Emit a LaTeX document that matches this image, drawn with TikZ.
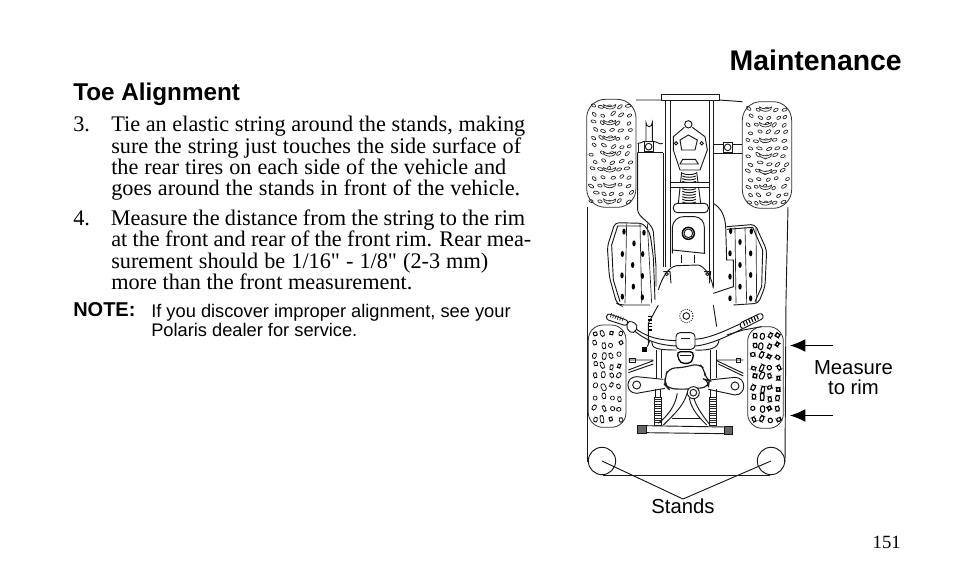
\documentclass[tikz,border=0pt]{standalone}
\usepackage{fontspec}
\setmainfont{Liberation Serif}
\setsansfont{Liberation Sans}
\newfontfamily\plainq{Liberation Serif}
\newcommand{\sq}{{\plainq"}}
\newcommand{\fitline}[2]{\makebox[\dimexpr #1pt*3/4\relax][s]{#2}}
\tikzset{
  bodytext/.style={anchor=base west,inner sep=0pt,font=\fontsize{16.7pt}{17pt}\selectfont},
  sanstext/.style={anchor=base west,inner sep=0pt,font=\sffamily\fontsize{13.7pt}{15pt}\selectfont},
  labeltext/.style={anchor=base,inner sep=0pt,font=\sffamily\fontsize{15.2pt}{16pt}\selectfont},
  art/.style={line width=.7pt,black!90},
  thin art/.style={line width=.5pt,black!85},
  tire/.style={line width=.6pt,black!80,rounded corners=14pt},
  standring/.style={circle,draw,line width=.7pt,black!90,minimum size=20.5pt,inner sep=0pt},
  arrowline/.style={line width=.6pt,-{Latex[length=11.5pt,width=9.5pt]}},
}
\usetikzlibrary{arrows.meta}
\newcommand{\rearblobs}[4]{% x0 x1 y0 y1 in zoom px
  \foreach \r in {0,...,12}{
    \foreach \c in {0,...,4}{
      \pgfmathsetmacro{\bx}{#1+(#2-#1)*(\c+.5+.3*(mod(\r,2)-.5))/5+rand*4}
      \pgfmathsetmacro{\by}{#3+(#4-#3)*(\r+.5)/13+rand*4}
      \pgfmathsetmacro{\ba}{(\c<2?-28:28)+rand*20}
      \pgfmathsetmacro{\bw}{6+3*rnd}
      \draw[thin art] (\bx,\by) ellipse[x radius=\bw,y radius=4.2,rotate=\ba];
    }
    \pgfmathsetmacro{\cx}{(#1+#2)/2+(mod(\r,2)-.5)*10}
    \pgfmathsetmacro{\cy}{#3+(#4-#3)*(\r+.5)/13}
    \ifodd\r\relax\else
      \draw[thin art,fill=white] (\cx-18,\cy-6) .. controls (\cx-8,\cy+2) and (\cx+8,\cy+2) .. (\cx+18,\cy-6) -- (\cx+16,\cy+2) .. controls (\cx+6,\cy+9) and (\cx-6,\cy+9) .. (\cx-16,\cy+2) -- cycle;
    \fi
  }
}
\newcommand{\frontblobs}[5]{%
  \foreach \r in {0,...,8}{
    \foreach \c in {0,...,3}{
      \pgfmathsetmacro{\bx}{#1+(#2-#1)*(\c+.5)/4+rand*4}
      \pgfmathsetmacro{\by}{#3+(#4-#3)*(\r+.5)/9+rand*6}
      \pgfmathsetmacro{\bh}{5+3*rnd+(\c==1?3:0)}
      \pgfmathsetmacro{\bw}{4+2.5*rnd}
      \pgfmathsetmacro{\ba}{rand*35}
      \draw[line width=#5,black,rounded corners=1.5pt,rotate around={\ba:(\bx,\by)}] (\bx-\bw,\by-\bh) rectangle (\bx+\bw,\by+\bh);
    }
  }
}
\begin{document}
\begin{tikzpicture}[x=.75pt,y=-.75pt]
\useasboundingbox (0,0) rectangle (954,588);
% ---------- text
\node[anchor=base east,inner sep=0pt,font=\sffamily\bfseries\fontsize{21.3pt}{24pt}\selectfont] (title) at (902,71) {Maintenance};
\node[anchor=base west,inner sep=0pt,font=\sffamily\bfseries\fontsize{18.2pt}{20pt}\selectfont] (head) at (73,101) {Toe Alignment};
\node[bodytext] (l1) at (73,132) {3.};
\node[bodytext] (l1b) at (111,132) {\fitline{414}{Tie an elastic string around the stands, making}};
\node[bodytext] (l2) at (111,154) {\fitline{410}{sure the string just touches the side surface of}};
\node[bodytext] (l3) at (111,175) {\fitline{395}{the rear tires on each side of the vehicle and}};
\node[bodytext] (l4) at (111,196) {\fitline{409}{goes around the stands in front of the vehicle.}};
\node[bodytext] (m1) at (73,226) {4.};
\node[bodytext] (m1b) at (110.5,226) {\fitline{414.5}{Measure the distance from the string to the rim}};
\node[bodytext] (m2) at (111,247) {\fitline{420}{at the front and rear of the front rim. Rear mea-}};
\node[bodytext] (m3) at (111,269) {\fitline{377}{surement should be 1/16\sq{} - 1/8\sq{} (2-3 mm)}};
\node[bodytext] (m4) at (111,290) {more than the front measurement.};
\node[anchor=base west,inner sep=0pt,font=\sffamily\bfseries\fontsize{15pt}{16pt}\selectfont] (note) at (73,316) {NOTE:};
\node[sanstext] (n1) at (151,317) {If you discover improper alignment, see your};
\node[sanstext] (n2) at (151,336) {Polaris dealer for service.};
\node[labeltext] (meas1) at (853.5,374) {Measure};
\node[labeltext] (meas2) at (853.5,394) {to rim};
\node[labeltext] (stands) at (683,513) {Stands};
\node[anchor=base east,inner sep=0pt,font=\fontsize{14pt}{16pt}\selectfont] (page) at (901,548) {151};
% ---------- string and stands
\draw[art] (587,207) -- (587,462);
\draw[art] (788,207) -- (786,300) -- (785,462);
\draw[art] (603,475) -- (770,475);
\node[standring] (standl) at (602,461) {};
\node[standring] (standr) at (771,461) {};
\coordinate (join) at (683,499);
\draw[art] (standl.center) -- (join);
\draw[art] (standr.center) -- (join);
% ---------- arrows
\coordinate (a1s) at (833,345.5);
\coordinate (a1e) at (790,345.5);
\coordinate (a2s) at (833,415.5);
\coordinate (a2e) at (790,415.5);
\draw[arrowline] (a1s) -- (a1e);
\draw[arrowline] (a2s) -- (a2e);
% ---------- rear half: coordinates are 3x zoom pixels from (570,90)
\begin{scope}[shift={(570,90)},x=.25pt,y=-.25pt]
\pgfmathsetseed{4711}
\draw[tire] (50,28) rectangle (198,352);
\draw[tire] (517,35) rectangle (665,355);
\rearblobs{58}{190}{38}{345}
\rearblobs{525}{658}{45}{350}
% frame top
\draw[art] (198,30) -- (275,30) (447,30) -- (517,35);
\draw[art] (275,12) rectangle (447,32);
\draw[art] (285,30) -- (285,530) (300,30) -- (300,530);
\draw[art] (417,30) -- (417,570) (430,30) -- (430,590);
% rear axle left
\draw[art] (228,155) -- (228,98) arc[start angle=180,end angle=0,x radius=9.5,y radius=12] -- (247,155);
\draw[art] (203,160) to[out=-30,in=180] (222,154) (250,154) to[out=0,in=210] (278,160);
\draw[art,fill=white] (222,155) rectangle (250,185);
\draw[art] (236,170) circle[radius=10];
\draw[art] (203,187) -- (278,187);
\draw[art] (205,160) -- (205,187);
% rear axle right
\draw[art] (430,163) -- (460,163) (487,163) -- (517,163);
\draw[art] (460,157) rectangle (487,187);
\draw[art] (473,172) circle[radius=10];
\draw[art] (430,190) -- (517,190);
% fender lines
\draw[art] (203,187) -- (203,360) .. controls (205,385) and (245,395) .. (250,425) -- (258,530) -- (258,590);
\draw[art] (280,190) -- (280,530);
\draw[art] (430,340) .. controls (455,355) and (465,380) .. (467,410) -- (470,510) -- (490,510) -- (490,590) -- (430,610);
% centre plate
\draw[art] (343,112) -- (310,140) -- (310,180) -- (330,240) -- (390,240) -- (412,180) -- (405,140) -- (367,112);
\draw[art,fill=white] (355,103) circle[radius=11];
\draw[art] (330,150) -- (355,135) -- (382,150) -- (375,180) -- (335,180) -- cycle;
\draw[art] (318,160) circle[radius=5] (395,160) circle[radius=5];
\draw[art] (330,222) -- (338,208) -- (376,208) -- (385,222) -- cycle;
\foreach \yy in {250,258,266,274,296,304,312,320,328,336}{
  \draw[art] (337,\yy) .. controls (345,\yy+5) and (370,\yy+5) .. (378,\yy);
}
\draw[art] (335,246) -- (325,340) (380,246) -- (392,340);
\draw[art,fill=white] (300,278) rectangle (417,292);
\draw[art,fill=white,rounded corners=3pt] (310,340) rectangle (415,368);
% tank
\draw[art] (307,490) -- (307,412) .. controls (310,390) and (325,380) .. (340,380) -- (375,380) .. controls (392,382) and (403,395) .. (403,412) -- (403,490) -- (307,480);
\draw[line width=1.1pt] (355,430) circle[radius=18];
\draw[art] (355,430) circle[radius=13];
\draw[art] (333,495) -- (333,520) (372,495) -- (372,520);
% seat front
\draw[art] (265,600) .. controls (275,565) and (295,530) .. (320,527) -- (385,525) .. controls (405,530) and (425,560) .. (430,595);
\draw[art] (290,552) circle[radius=5] (412,552) circle[radius=5];
\draw[art] (280,545) -- (300,545) -- (303,580) (402,545) -- (422,545) -- (418,580);
% left footrest
\draw[art,rounded corners=3pt] (255,630) -- (250,500) -- (240,430) -- (220,400) -- (135,398) -- (112,470) -- (118,560) -- (140,640) -- (150,645) -- (240,645);
\draw[art] (125,465) -- (143,408) -- (215,408) (125,465) -- (130,570) -- (150,635);
\foreach \xa/\xb in {170/165,210/215,232/245}{\draw[thin art] (\xa,400) -- (\xb,640);}
% right footrest
\draw[art,rounded corners=3pt] (470,410) -- (555,403) -- (590,480) -- (585,590) -- (565,640) -- (490,645);
\draw[art] (470,418) -- (548,412) -- (578,480) -- (575,590) -- (555,635);
\foreach \xa/\xb in {495/498,525/530,558/560}{\draw[thin art] (\xa,412) -- (\xb,640);}
% footrest studs
\foreach \px/\py in {162/425,222/428,192/460,157/492,218/492,188/525,156/556,217/558,190/590,157/620,217/622,
  482/423,544/424,510/456,480/490,542/490,510/525,480/560,542/555,510/590,480/625,542/625}{
  \fill[black] (\px,\py) ellipse[x radius=5,y radius=9];
}
\end{scope}
% ---------- front half: coordinates are 3x zoom pixels from (570,290)
\begin{scope}[shift={(570,290)},x=.25pt,y=-.25pt]
\pgfmathsetseed{90210}
\draw[tire,rounded corners=11pt] (55,105) rectangle (168,412);
\draw[tire,rounded corners=11pt] (533,110) rectangle (640,415);
\frontblobs{62}{162}{115}{402}{.5pt}
\frontblobs{540}{635}{120}{405}{.8pt}
% body lines
\draw[art] (265,45) -- (235,100) -- (235,160);
\draw[art] (430,45) -- (440,110);
% gas cap
\draw[art,densely dotted] (349,78) circle[radius=20];
\draw[art] (349,78) circle[radius=10];
% ladder
\foreach \t in {80,90,100,110,120}{\draw[line width=1pt] (235,\t) -- (247,\t);}
% handlebar
\draw[art] (175,100) .. controls (215,130) and (240,150) .. (320,152);
\draw[art] (190,120) .. controls (225,150) and (260,165) .. (320,168);
\draw[art] (375,148) .. controls (420,145) and (470,120) .. (510,102);
\draw[art] (375,168) .. controls (420,165) and (480,135) .. (520,115);
\draw[art,fill=white,rounded corners=2pt] (112,70) -- (175,92) -- (170,108) -- (108,88) -- cycle;
\foreach \h in {125,132,139,146,153,160}{\draw[thin art] (\h,\h*.35+26) -- ({\h-4},{\h*.35+38});}
\draw[art,fill=white,rounded corners=3pt] (175,90) -- (205,105) -- (192,132) -- (168,118) -- cycle;
\draw[art,fill=white,rounded corners=2pt] (508,100) -- (575,68) -- (582,84) -- (515,118) -- cycle;
\foreach \h in {520,528,536,544,552,560}{\draw[line width=.8pt] (\h,{-.48*\h+345}) -- ({\h+5},{-.48*\h+357});}
\draw[art] (470,135) -- (520,120) -- (575,110);
\draw[art,rounded corners=3pt,fill=white] (318,128) -- (375,128) -- (375,178) -- (318,178) -- cycle;
\draw[art] (332,145) -- (360,145);
% frame under bars
\draw[art] (245,155) .. controls (245,175) and (260,180) .. (320,180);
\draw[art] (375,180) .. controls (420,182) and (445,175) .. (447,150);
\draw[art] (258,180) -- (258,268) (275,180) -- (275,265);
\draw[art] (422,180) -- (422,268) (440,180) -- (440,265);
\fill[black] (215,170) rectangle (232,186);
\draw[art] (232,170) -- (240,150);
% headlight
\draw[line width=1pt,rounded corners=3pt] (320,185) -- (372,185) -- (365,220) -- (330,220) -- cycle;
\draw[art] (330,195) -- (362,195);
% tie rods
\draw[art] (175,210) -- (250,210) (175,240) -- (250,212) (175,248) -- (250,222);
\draw[art] (178,205) rectangle (195,216);
\draw[art] (440,210) -- (520,210) (440,212) -- (520,250) (445,222) -- (520,258);
\draw[art] (498,205) rectangle (512,216);
% A-arms
\draw[art,fill=white] (280,268) -- (200,260) .. controls (165,260) and (165,310) .. (200,310) -- (285,295);
\draw[art] (200,285) circle[radius=12];
\draw[art,fill=white] (418,270) -- (495,262) .. controls (530,262) and (530,315) .. (495,315) -- (415,298);
\draw[art] (495,288) circle[radius=12];
% central housing
\draw[line width=.85pt,black!90,fill=white,rounded corners=5pt] (285,262) -- (295,235) -- (345,232) -- (385,220) -- (405,238) -- (405,268) -- (418,272) -- (415,292) -- (345,298) -- (295,296) -- (285,285) -- cycle;
% pipes
\draw[art] (352,308) .. controls (340,350) and (310,375) .. (280,405);
\draw[art] (322,310) .. controls (315,350) and (295,375) .. (265,400);
\draw[art] (358,325) .. controls (365,360) and (390,385) .. (410,405);
\draw[art] (372,325) .. controls (380,355) and (405,385) .. (420,405);
\draw[art] (305,385) -- (392,385);
\draw[art,fill=white] (370,308) circle[radius=18];
\draw[art] (370,308) circle[radius=10];
% shocks
\draw[art] (255,298) -- (255,320) (270,298) -- (270,320) (422,298) -- (422,320) (438,298) -- (438,320);
\draw[art] (252,322) rectangle (273,405);
\draw[art] (418,322) rectangle (440,405);
\foreach \s in {328,335,...,400}{\draw[thin art] (252,\s) -- (273,\s) (418,\s) -- (440,\s);}
% front bar
\draw[art,fill=white] (225,407) -- (465,411) -- (465,431) -- (225,428) -- cycle;
\draw[art,fill=black!60] (203,405) rectangle (228,430);
\draw[art,fill=black!60] (462,408) rectangle (487,432);
\end{scope}
\end{tikzpicture}
\end{document}
